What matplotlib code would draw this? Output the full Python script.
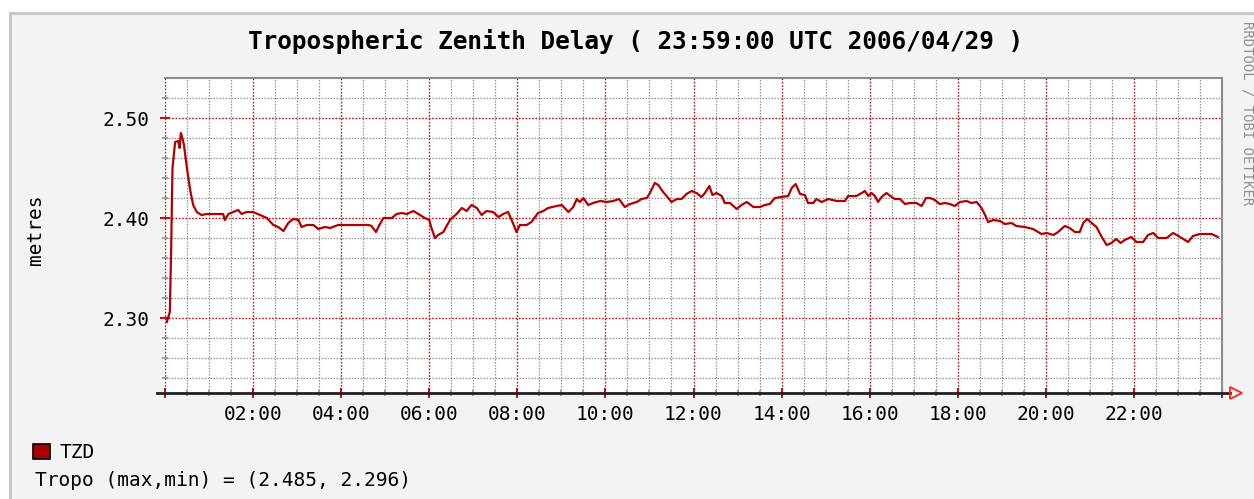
import numpy as np
import matplotlib
matplotlib.use("Agg")
import matplotlib.pyplot as plt
import matplotlib.ticker as ticker
from matplotlib.patches import Rectangle

# hours since 00:00 UTC and tropospheric zenith delay [m]
hours = [0.04, 0.11, 0.14, 0.17, 0.23, 0.30, 0.33, 0.36, 0.40, 0.43, 0.48, 0.53, 0.58, 0.64,
         0.72, 0.83, 0.95, 1.10, 1.32, 1.36, 1.44, 1.55, 1.66, 1.74, 1.85, 2.00, 2.16, 2.31,
         2.46, 2.57, 2.69, 2.80, 2.91, 3.03, 3.10, 3.22, 3.37, 3.48, 3.63, 3.75, 3.93, 4.05,
         4.27, 4.62, 4.69, 4.79, 4.88, 4.96, 5.15, 5.26, 5.37, 5.49, 5.64, 5.75, 5.90, 6.00,
         6.05, 6.13, 6.20, 6.32, 6.47, 6.62, 6.74, 6.85, 6.96, 7.08, 7.19, 7.30, 7.45, 7.57,
         7.68, 7.79, 7.89, 7.98, 8.06, 8.21, 8.32, 8.47, 8.59, 8.70, 8.89, 9.01, 9.16, 9.27,
         9.35, 9.42, 9.50, 9.61, 9.72, 9.88, 10.03, 10.18, 10.31, 10.44, 10.56, 10.71, 10.82,
         10.94, 11.01, 11.12, 11.20, 11.31, 11.39, 11.50, 11.62, 11.73, 11.84, 11.96, 12.07,
         12.18, 12.26, 12.36, 12.43, 12.52, 12.64, 12.71, 12.83, 12.98, 13.09, 13.21, 13.36,
         13.51, 13.62, 13.73, 13.85, 14.00, 14.15, 14.23, 14.32, 14.42, 14.53, 14.60, 14.72,
         14.79, 14.91, 15.06, 15.25, 15.44, 15.51, 15.70, 15.82, 15.89, 15.97, 16.04, 16.12,
         16.19, 16.27, 16.38, 16.47, 16.57, 16.69, 16.80, 16.91, 17.06, 17.18, 17.28, 17.37,
         17.48, 17.59, 17.71, 17.82, 17.93, 18.05, 18.20, 18.31, 18.43, 18.54, 18.62, 18.69,
         18.81, 18.96, 19.07, 19.22, 19.33, 19.52, 19.71, 19.90, 20.02, 20.17, 20.28, 20.43,
         20.54, 20.66, 20.77, 20.85, 20.94, 21.04, 21.15, 21.27, 21.38, 21.49, 21.60, 21.70,
         21.79, 21.94, 22.06, 22.21, 22.32, 22.44, 22.55, 22.74, 22.89, 23.01, 23.12, 23.23,
         23.34, 23.50, 23.76, 23.91]
tzd = [2.296, 2.306, 2.370, 2.450, 2.476, 2.477, 2.470, 2.485, 2.479, 2.473, 2.456, 2.440,
       2.426, 2.413, 2.406, 2.403, 2.404, 2.404, 2.404, 2.398, 2.404, 2.406, 2.408, 2.404,
       2.406, 2.406, 2.403, 2.400, 2.393, 2.391, 2.387, 2.395, 2.399, 2.398, 2.391, 2.393,
       2.393, 2.389, 2.391, 2.390, 2.393, 2.393, 2.393, 2.393, 2.392, 2.386, 2.394, 2.400,
       2.400, 2.404, 2.405, 2.404, 2.407, 2.404, 2.400, 2.398, 2.390, 2.380, 2.383, 2.386,
       2.398, 2.404, 2.410, 2.407, 2.413, 2.410, 2.403, 2.407, 2.406, 2.401, 2.404, 2.406,
       2.396, 2.386, 2.393, 2.393, 2.396, 2.405, 2.407, 2.410, 2.412, 2.413, 2.406, 2.411,
       2.419, 2.416, 2.420, 2.413, 2.415, 2.417, 2.416, 2.417, 2.419, 2.411, 2.414, 2.416,
       2.419, 2.420, 2.425, 2.435, 2.433, 2.426, 2.422, 2.416, 2.419, 2.419, 2.424, 2.427,
       2.425, 2.421, 2.425, 2.432, 2.423, 2.425, 2.422, 2.415, 2.415, 2.409, 2.413, 2.416,
       2.411, 2.411, 2.413, 2.414, 2.420, 2.421, 2.422, 2.430, 2.434, 2.424, 2.423, 2.415,
       2.415, 2.419, 2.416, 2.419, 2.417, 2.417, 2.422, 2.422, 2.425, 2.427, 2.422, 2.425,
       2.422, 2.416, 2.421, 2.425, 2.422, 2.419, 2.419, 2.414, 2.415, 2.415, 2.412, 2.420,
       2.420, 2.418, 2.414, 2.415, 2.414, 2.412, 2.416, 2.417, 2.415, 2.416, 2.410, 2.403,
       2.396, 2.398, 2.397, 2.394, 2.395, 2.392, 2.391, 2.389, 2.384, 2.385, 2.383, 2.386,
       2.392, 2.390, 2.386, 2.386, 2.395, 2.399, 2.395, 2.391, 2.381, 2.373, 2.375, 2.379,
       2.375, 2.378, 2.381, 2.376, 2.376, 2.383, 2.385, 2.380, 2.380, 2.385, 2.382, 2.379,
       2.376, 2.382, 2.384, 2.384, 2.381]

x_major = [0, 2, 4, 6, 8, 10, 12, 14, 16, 18, 20, 22, 24]
x_labels = ["", "02:00", "04:00", "06:00", "08:00", "10:00", "12:00", "14:00", "16:00",
            "18:00", "20:00", "22:00", ""]
y_major = [2.30, 2.40, 2.50]
y_labels = ["2.30", "2.40", "2.50"]

title = "Tropospheric Zenith Delay ( 23:59:00 UTC 2006/04/29 )"
legend_name = "TZD"
stats_line = "Tropo (max,min) = (2.485, 2.296)"

mono = "DejaVu Sans Mono"
line_red = "#b00000"
grid_red = "#b01818"
grid_grey = "#909090"

W, H = 1254, 499
fig = plt.figure(figsize=(W / 100.0, H / 100.0), dpi=100, facecolor="white")

# rrdtool canvas: light grey with a border on the top/left
fig.patches.append(Rectangle((9.5 / W, -0.05), 1.2, (H - 12.5) / H + 0.05,
                             transform=fig.transFigure, facecolor="#f3f3f3",
                             edgecolor="#c8c8c8", lw=2.2, zorder=-10))

ax = fig.add_axes([165.0 / W, 1 - 393.0 / H, 1057.0 / W, 315.0 / H])
ax.set_facecolor("white")

ax.plot(hours, tzd, color=line_red, lw=1.6, zorder=5)

ax.set_xlim(0, 24)
ax.set_ylim(2.225, 2.54)

# minor grid positions, skipping the majors so the red lines stay on top
x_minor = [m / 2.0 for m in range(0, 49) if m % 4 != 0]
y_minor = [2.24 + 0.02 * k for k in range(15)]
y_minor = [v for v in y_minor if min(abs(v - t) for t in y_major) > 1e-6]

ax.xaxis.set_major_locator(ticker.FixedLocator(x_major))
ax.xaxis.set_minor_locator(ticker.FixedLocator(x_minor))
ax.yaxis.set_major_locator(ticker.FixedLocator(y_major))
ax.yaxis.set_minor_locator(ticker.FixedLocator(y_minor))
ax.set_xticklabels(x_labels)
ax.set_yticklabels(y_labels)

ax.set_axisbelow(True)
ax.grid(which="minor", color=grid_grey, ls=(0, (1.2, 1.2)), lw=0.9)
ax.grid(which="major", color=grid_red, ls=(0, (1.2, 1.2)), lw=1.0)

ax.tick_params(which="major", direction="inout", length=7, width=1.5, color=grid_red,
               labelsize=14, labelcolor="black")
ax.tick_params(axis="y", which="major", pad=7.5)
ax.tick_params(axis="x", which="major", pad=5)
ax.tick_params(which="minor", direction="inout", length=5, width=1.2, color=grid_grey)
for lab in ax.get_xticklabels() + ax.get_yticklabels():
    lab.set_fontfamily(mono)

for side in ["top", "right"]:
    ax.spines[side].set_color("#8c8c8c")
    ax.spines[side].set_linewidth(1.5)
ax.spines["left"].set_visible(False)
ax.spines["bottom"].set_visible(False)

# x axis drawn past the plot, with the rrdtool arrow at the end
ax.plot([-0.008, 1.008], [0, 0], transform=ax.transAxes, color="#202020", lw=2,
        clip_on=False, zorder=6)
ax.plot([1.013], [0], transform=ax.transAxes, marker=">", ms=9, mfc="none",
        mec="#ff2020", mew=1.3, clip_on=False, zorder=6)

fig.text(636.0 / W, 1 - 42.0 / H, title, ha="center", va="center", family=mono,
         fontweight="bold", fontsize=17.6)
fig.text(35.0 / W, 1 - 230.0 / H, "metres", ha="center", va="center", rotation=90,
         family=mono, fontsize=14)
fig.text(1247.0 / W, 1 - 113.0 / H, "RRDTOOL / TOBI OETIKER", ha="center", va="center",
         rotation=270, family=mono, fontsize=10, color="#909090")

# legend block
fig.patches.append(Rectangle((33.0 / W, 1 - 459.0 / H), 17.0 / W, 15.0 / H,
                             transform=fig.transFigure, facecolor="#aa0000",
                             edgecolor="black", lw=1.2))
fig.text(60.0 / W, 1 - 452.0 / H, legend_name, ha="left", va="center", family=mono,
         fontsize=14)
fig.text(35.0 / W, 1 - 480.0 / H, stats_line, ha="left", va="center", family=mono,
         fontsize=14)

fig.savefig("out.png", dpi=100, facecolor=fig.get_facecolor())
